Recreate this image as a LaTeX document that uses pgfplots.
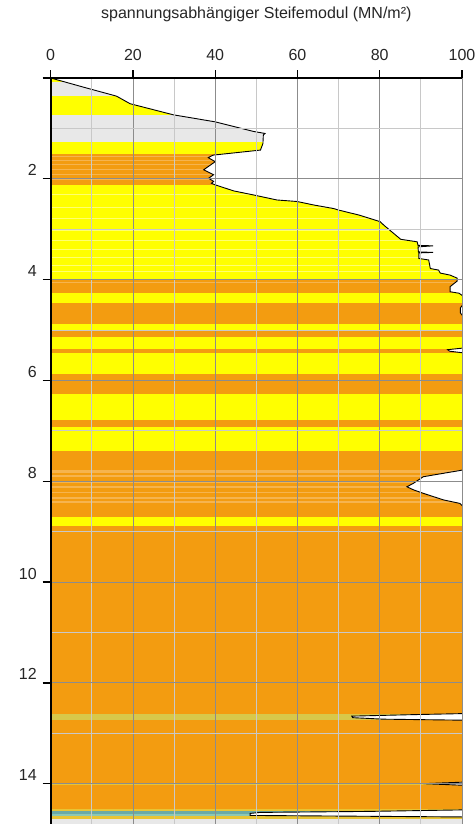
\documentclass[border=0pt]{standalone}
\usepackage{pgfplots}
\pgfplotsset{compat=1.18}
\usepackage{pgfplotstable}
\usepackage{fontspec}
\setmainfont{Liberation Sans}
\definecolor{ylw}{HTML}{FFFF00}
\definecolor{lyl}{HTML}{FFFF70}
\definecolor{org}{HTML}{F39C10}
\definecolor{lor}{HTML}{F6B44E}
\definecolor{lgr}{HTML}{E8E8E8}
\definecolor{olv}{HTML}{D8C84A}
\definecolor{tea}{HTML}{6AAAA6}
\definecolor{lte}{HTML}{8CC8B4}
\definecolor{yor}{HTML}{E8C434}
\definecolor{majg}{HTML}{8C8C8C}
\definecolor{ming}{HTML}{C8C8C8}
\newcommand{\fs}{\fontsize{16}{19}\selectfont}
\newcommand{\band}[3]{\addplot[fill=#3, draw=none, forget plot] coordinates {(0,#1) (100,#1) (100,#2) (0,#2)} -- cycle;}
\pgfplotstableread{
x d
0 0
7.9 0.18
16.0 0.36
19.3 0.51
29.8 0.73
40.0 0.87
49.3 1.06
52.1 1.10
51.7 1.13
51.6 1.30
51.0 1.43
39.5 1.53
38.3 1.58
40.0 1.66
37.2 1.82
39.6 1.92
38.4 1.99
39.6 2.05
39.1 2.09
40.0 2.12
44.5 2.24
49.3 2.32
55.0 2.42
59.9 2.45
64.0 2.52
68.8 2.59
70.0 2.62
75.0 2.72
80.1 2.85
81.0 2.92
82.9 3.05
85.1 3.20
89.1 3.25
89.3 3.32
93.0 3.33
89.3 3.35
89.4 3.45
93.0 3.46
89.5 3.47
89.5 3.58
91.9 3.61
92.3 3.78
94.3 3.81
94.7 3.87
97.1 3.91
98.8 3.97
98.8 4.03
97.1 4.14
97.1 4.24
99.3 4.27
100.3 4.33
130 4.36
130 4.48
100.2 4.50
99.6 4.56
99.6 4.66
100.2 4.72
130 4.74
130 5.34
100 5.36
96.5 5.39
97.0 5.42
100 5.45
130 5.47
130 7.76
100 7.78
90.6 7.91
88.2 8.04
86.6 8.11
88.2 8.17
90.6 8.24
95.5 8.37
99.5 8.44
100.2 8.50
130 8.52
130 12.59
100 12.61
88.2 12.63
73.2 12.66
73.4 12.69
80.9 12.72
100 12.74
130 12.76
130 13.95
100 13.97
90.6 14.00
100 14.03
130 14.05
130 14.50
100 14.52
77.3 14.55
50.9 14.57
48.5 14.59
48.5 14.63
100 14.66
130 14.68
130 14.8
130 0
}\curve
\begin{document}
\begin{tikzpicture}
\begin{axis}[
  at={(0,0)}, anchor=south west,
  scale only axis, width=411.3pt, height=746pt,
  xmin=0, xmax=100, ymin=0, ymax=14.8, y dir=reverse,
  axis x line*=top, axis y line*=left,
  xtick={0,20,...,100}, minor xtick={10,30,...,90},
  ytick={0,2,...,14}, yticklabels={,2,4,6,8,10,12,14},
  minor ytick={1,3,...,13},
  grid=both,
  major grid style={draw=majg, line width=0.9pt},
  minor grid style={draw=ming, line width=0.9pt},
  tick align=outside, major tick length=8pt, minor tick length=0pt,
  every tick/.style={black, line width=1.3pt},
  axis line style={black, line width=1.8pt},
  axis on top,
  /pgf/number format/assume math mode=true,
  xticklabel style={font=\fs, text=black!85, yshift=5.4pt},
  yticklabel style={font=\fs, text=black!85, xshift=-2.4pt, yshift=8.5pt},
  title={spannungsabhängiger Steifemodul (MN/m²)},
  title style={font=\fs, text=black!85, at={(0.5,1)}, anchor=base, yshift=53pt},
]
\band{0}{14.8}{org}
\band{0.00}{0.08}{ylw}
\band{0.08}{0.36}{lgr}
\band{0.36}{0.74}{ylw}
\band{0.74}{1.27}{lgr}
\band{1.27}{1.50}{ylw}
\band{1.55}{1.57}{lor}
\band{1.63}{1.65}{lor}
\band{1.71}{1.73}{lor}
\band{1.80}{1.82}{lor}
\band{1.90}{1.92}{lor}
\band{2.00}{2.02}{lor}
\band{2.12}{4.00}{ylw}
\band{2.30}{2.32}{lyl}
\band{2.55}{2.57}{lyl}
\band{2.78}{2.80}{lyl}
\band{3.02}{3.04}{lyl}
\band{3.22}{3.24}{lyl}
\band{3.40}{3.42}{lyl}
\band{3.55}{3.57}{lyl}
\band{3.70}{3.72}{lyl}
\band{3.82}{3.84}{lyl}
\band{4.05}{4.07}{lor}
\band{4.27}{4.46}{ylw}
\band{4.89}{5.01}{ylw}
\band{5.13}{5.38}{ylw}
\band{5.46}{5.87}{ylw}
\band{6.27}{6.79}{ylw}
\band{6.92}{7.40}{ylw}
\band{7.78}{7.84}{lor}
\band{7.88}{7.91}{lor}
\band{8.01}{8.04}{lor}
\band{8.10}{8.14}{lor}
\band{8.21}{8.24}{lor}
\band{8.32}{8.36}{lor}
\band{8.39}{8.43}{lor}
\band{8.70}{8.88}{ylw}
\band{12.61}{12.74}{olv}
\band{13.99}{14.03}{yor}
\band{14.51}{14.55}{yor}
\band{14.55}{14.61}{tea}
\band{14.61}{14.64}{lte}
\band{14.64}{14.71}{yor}
\band{14.71}{14.80}{lgr}
\addplot[fill=white, draw=none, forget plot] table[x=x, y=d] {\curve};
\addplot[black, line width=0.9pt, forget plot] table[x=x, y=d] {\curve};
\end{axis}
\pgfresetboundingbox
\path[use as bounding box] (-50.7pt,0pt) rectangle (423.3pt,824pt);
\end{tikzpicture}
\end{document}
